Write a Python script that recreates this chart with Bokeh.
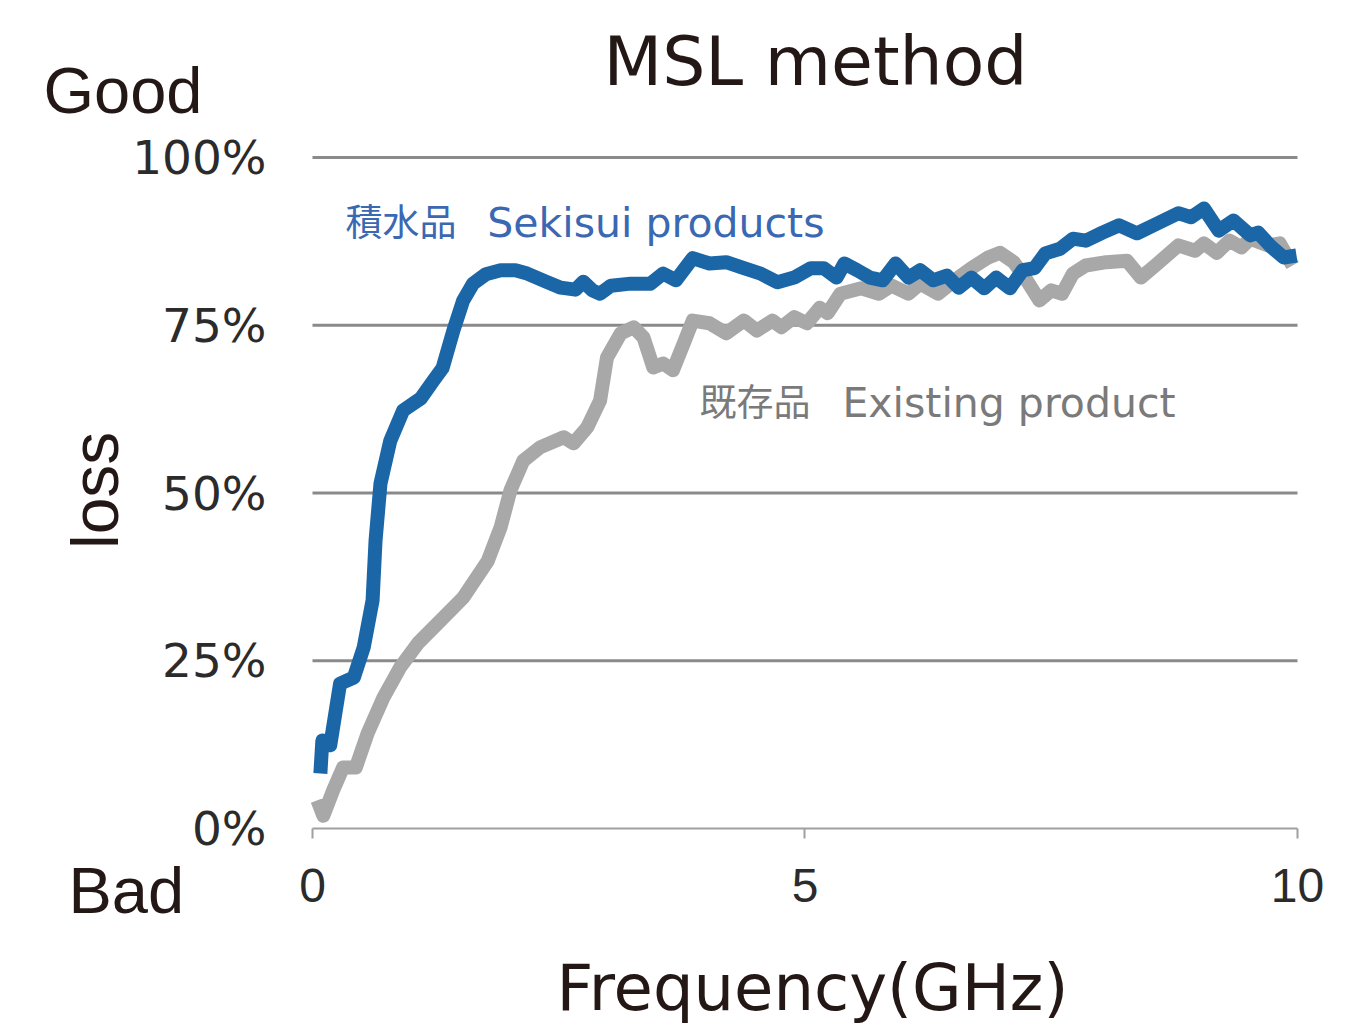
import math
from bokeh.plotting import figure
from bokeh.models import FixedTicker, Label, Range1d
from bokeh.embed import file_html
from bokeh.resources import INLINE

# Frequency (GHz) and loss (%)
sekisui_x = [0.08, 0.10, 0.18, 0.28, 0.42, 0.52, 0.61, 0.64, 0.69, 0.79, 0.92, 1.10, 1.23, 1.32,
             1.43, 1.53, 1.63, 1.76, 1.91, 2.06, 2.18, 2.37, 2.52, 2.67, 2.75, 2.84, 2.92, 3.03,
             3.23, 3.43, 3.56, 3.69, 3.86, 4.03, 4.20, 4.38, 4.55, 4.72, 4.89, 5.06, 5.19, 5.32,
             5.40, 5.53, 5.66, 5.79, 5.92, 6.05, 6.17, 6.30, 6.44, 6.56, 6.69, 6.82, 6.94, 7.08,
             7.21, 7.33, 7.44, 7.59, 7.72, 7.85, 8.02, 8.19, 8.37, 8.54, 8.79, 8.92, 9.05, 9.20,
             9.35, 9.52, 9.60, 9.74, 9.86, 9.99]
sekisui_y = [8.2, 13.1, 12.4, 21.6, 22.5, 27.0, 34.0, 42.9, 51.4, 57.8, 62.3, 64.1, 66.8, 68.6,
             74.2, 78.7, 81.2, 82.6, 83.2, 83.2, 82.7, 81.5, 80.6, 80.3, 81.5, 80.2, 79.7, 80.9,
             81.2, 81.2, 82.7, 81.7, 85.0, 84.2, 84.4, 83.5, 82.7, 81.4, 82.1, 83.5, 83.5, 82.1,
             84.2, 83.2, 82.1, 81.7, 84.2, 82.1, 83.2, 81.7, 82.4, 80.6, 82.1, 80.5, 82.1, 80.5,
             83.2, 83.5, 85.7, 86.4, 87.9, 87.6, 88.8, 89.9, 88.7, 89.9, 91.7, 91.1, 92.4, 89.1,
             90.6, 88.4, 88.8, 86.6, 85.1, 85.4]

existing_x = [0.05, 0.11, 0.21, 0.31, 0.44, 0.56, 0.72, 0.89, 1.07, 1.30, 1.53, 1.78, 1.91, 2.01,
              2.14, 2.31, 2.55, 2.65, 2.79, 2.92, 2.99, 3.13, 3.26, 3.36, 3.46, 3.56, 3.66, 3.78,
              3.86, 4.03, 4.20, 4.38, 4.51, 4.67, 4.76, 4.89, 5.02, 5.15, 5.23, 5.36, 5.57, 5.75,
              5.88, 6.05, 6.17, 6.35, 6.52, 6.69, 6.86, 6.98, 7.12, 7.25, 7.38, 7.50, 7.61, 7.72,
              7.85, 8.06, 8.27, 8.41, 8.58, 8.79, 8.96, 9.05, 9.18, 9.31, 9.43, 9.52, 9.70, 9.82,
              9.95]
existing_y = [4.2, 1.9, 5.7, 9.1, 9.1, 14.2, 19.5, 24.0, 27.6, 31.0, 34.4, 39.9, 44.9, 50.4,
              54.8, 56.8, 58.3, 57.4, 59.8, 63.8, 70.2, 73.8, 74.7, 73.2, 68.7, 69.3, 68.3, 72.7,
              75.7, 75.3, 73.8, 75.7, 74.2, 75.7, 74.7, 76.2, 75.3, 77.6, 76.8, 79.7, 80.5, 79.7,
              80.9, 79.7, 81.2, 79.7, 81.7, 83.5, 85.1, 85.8, 84.4, 81.7, 78.7, 80.2, 79.7, 82.7,
              83.9, 84.4, 84.6, 82.1, 84.2, 86.9, 86.1, 87.2, 85.8, 87.6, 86.6, 87.9, 86.9, 87.2,
              83.9]

x_ticks = [0, 5, 10]
y_ticks = [0, 25, 50, 75, 100]
y_tick_labels = ["0%", "25%", "50%", "75%", "100%"]
grid_ticks = [25, 50, 75, 100]

W, H = 1356, 1027
# the frame fills the canvas; the axes sit at x=0 / y=0 so that every text stays inside it
p = figure(width=W, height=H, output_backend="svg", toolbar_location=None, title_location=None,
           x_range=Range1d(-3.1675, 10.599), y_range=Range1d(-29.657, 123.398),
           min_border=0, min_border_left=0, min_border_right=0, min_border_top=0,
           min_border_bottom=0)
p.outline_line_color = None
p.background_fill_color = "white"
p.border_fill_color = "white"
p.xgrid.visible = False
p.ygrid.visible = False

# horizontal grid lines between the first and last x tick
p.segment(x0=[x_ticks[0]] * len(grid_ticks), x1=[x_ticks[-1]] * len(grid_ticks),
          y0=grid_ticks, y1=grid_ticks, line_color="#8a8a8a", line_width=3)

# x axis at y = 0
p.xaxis.fixed_location = 0
p.xaxis.bounds = (x_ticks[0], x_ticks[-1])
p.xaxis.ticker = FixedTicker(ticks=x_ticks)
p.xaxis.axis_line_color = "#a0a0a0"
p.xaxis.axis_line_width = 2
p.xaxis.major_tick_line_color = "#a0a0a0"
p.xaxis.major_tick_line_width = 2
p.xaxis.major_tick_out = 10
p.xaxis.major_tick_in = 0
p.xaxis.minor_tick_line_color = None
p.xaxis.major_label_text_font = "Liberation Sans"
p.xaxis.major_label_text_font_size = "48px"
p.xaxis.major_label_text_color = "#2b2b2b"
p.xaxis.major_label_standoff = 30

# y axis at x = 0
p.yaxis.fixed_location = 0
p.yaxis.bounds = (y_ticks[0], y_ticks[-1])
p.yaxis.ticker = FixedTicker(ticks=y_ticks)
p.yaxis.major_label_overrides = {t: l for t, l in zip(y_ticks, y_tick_labels)}
p.yaxis.axis_line_color = None
p.yaxis.major_tick_line_color = None
p.yaxis.minor_tick_line_color = None
p.yaxis.major_label_text_font = "DejaVu Sans"
p.yaxis.major_label_text_font_size = "47px"
p.yaxis.major_label_text_color = "#2b2b2b"
p.yaxis.major_label_standoff = 40

# series
p.line(existing_x, existing_y, line_color="#a8a8a8", line_width=14, line_join="round")
p.line(sekisui_x, sekisui_y, line_color="#1b66a7", line_width=14, line_join="round")


def label(x, y, text, font, size, color, **kw):
    p.add_layout(Label(x=x, y=y, text=text, text_font=font, text_font_size=size,
                       text_color=color, text_baseline="bottom", **kw))


dark = "#231815"
label(2.954, 108.35, "MSL method", "DejaVu Sans", "68px", dark)
label(-2.731, 104.62, "Good", "Liberation Sans", "65px", dark)
label(-2.477, -14.75, "Bad", "Liberation Sans", "65px", dark)
label(2.477, -29.35, "Frequency(GHz)", "DejaVu Sans", "64px", dark)
label(-1.83, 50.4, "loss", "Liberation Sans", "66px", dark, angle=math.pi / 2,
      text_align="center")

# series annotations
label(0.335, 86.6, "積水品", "Noto Sans CJK JP", "37px", "#3a68b2")
label(1.775, 86.6, "Sekisui products", "DejaVu Sans", "41px", "#3a68b2")
label(3.93, 59.8, "既存品", "Noto Sans CJK JP", "37px", "#7a7a7a")
label(5.38, 59.8, "Existing product", "DejaVu Sans", "41px", "#7a7a7a")

open("out.html", "w").write(file_html(p, INLINE))
